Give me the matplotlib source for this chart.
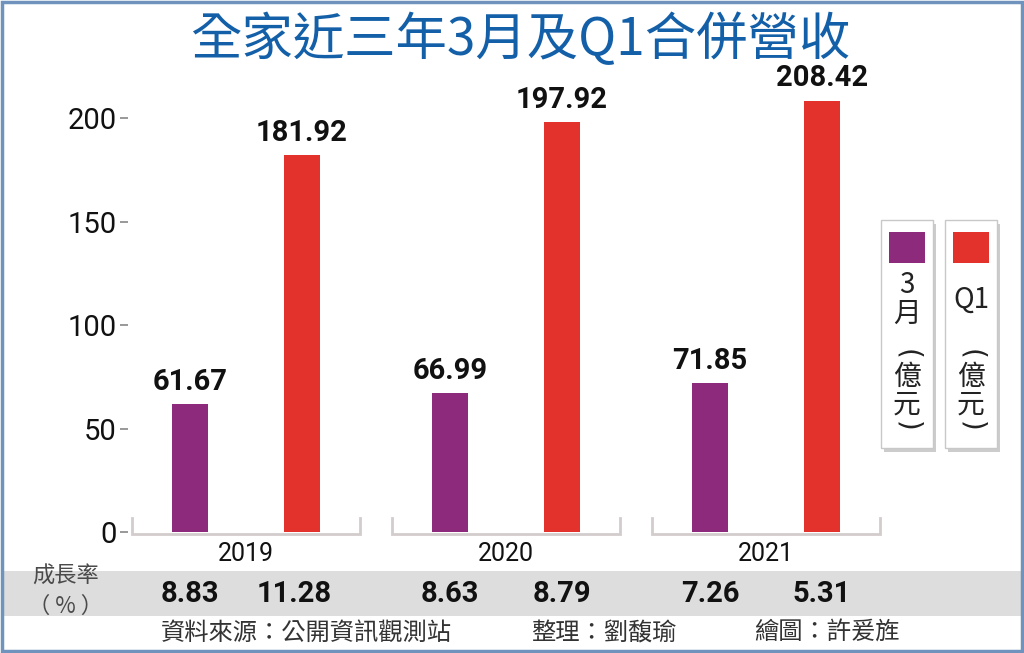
import matplotlib
matplotlib.use("Agg")
import matplotlib.pyplot as plt
import matplotlib.transforms as mtransforms
from matplotlib.patches import Rectangle
import numpy as np

plt.rcParams['font.family'] = ['Noto Sans CJK TC', 'DejaVu Sans']

# ---- data ----
title = "全家近三年3月及Q1合併營收"
years = ["2019", "2020", "2021"]
march_vals = [61.67, 66.99, 71.85]
q1_vals = [181.92, 197.92, 208.42]
march_growth = [8.83, 8.63, 7.26]
q1_growth = [11.28, 8.79, 5.31]
yticks = [0, 50, 100, 150, 200]
legend_march = ["3", "月"]
legend_q1 = ["Q1"]
legend_unit = ["億", "元"]
growth_label = ["成長率", "（ % ）"]
source_texts = ["資料來源：公開資訊觀測站", "整理：劉馥瑜", "繪圖：許爰旌"]

PURPLE = "#8e2a7c"
RED = "#e3322b"
W, H = 1024, 653

def fx(x):
    return x / W

def fy(y):
    return 1 - y / H

fig = plt.figure(figsize=(W / 100, H / 100), dpi=100)
fig.patch.set_facecolor("white")

# axes geometry (pixels)
ppu = 2.07  # pixels per unit
ymin, ymax = -4, 225
zero_px = 532
ax_bottom_px = zero_px - ymin * ppu
ax_top_px = zero_px - ymax * ppu
left_px, right_px = 128, 870
ax = fig.add_axes([fx(left_px), fy(ax_bottom_px), (right_px - left_px) / W,
                   (ax_bottom_px - ax_top_px) / H])
ax.set_zorder(2)
ax.set_ylim(ymin, ymax)
grp_px0, grp_step = 246, 260
ax.set_xlim((left_px - grp_px0) / grp_step, (right_px - grp_px0) / grp_step)
ax.patch.set_alpha(0)
for s in ax.spines.values():
    s.set_visible(False)

x = np.arange(len(years))
off = 56 / grp_step
bw = 36 / grp_step
b1 = ax.bar(x - off, march_vals, width=bw, color=PURPLE, zorder=3)
b2 = ax.bar(x + off, q1_vals, width=bw, color=RED, zorder=3)

numfont = ['Roboto', 'DejaVu Sans']
for bars, vals in ((b1, march_vals), (b2, q1_vals)):
    for r, v in zip(bars, vals):
        ax.annotate(f"{v:.2f}", (r.get_x() + r.get_width() / 2, v),
                    xytext=(0, 6), textcoords="offset points", ha="center",
                    va="bottom", fontsize=21, fontweight="bold",
                    family=numfont, color="#111111", clip_on=False)

# group brackets
half = 114 / grp_step
for xi in x:
    ax.plot([xi - half, xi - half, xi + half, xi + half], [7, -1, -1, 7],
            color="#d3cccc", lw=2, solid_joinstyle="miter", clip_on=False,
            zorder=2)

ax.set_yticks(yticks)
ax.set_yticklabels([str(t) for t in yticks], family=numfont, fontsize=21,
                   color="#111111")
ax.tick_params(axis="y", length=6, width=1.2, color="#888888", pad=2)
ax.set_xticks(x)
ax.set_xticklabels(years, family=numfont, fontsize=18, color="#111111")
ax.tick_params(axis="x", length=0, pad=1)

# growth band
fig.patches.append(Rectangle((fx(3), fy(616)), (W - 6) / W, 45 / H,
                             transform=fig.transFigure, facecolor="#dddddd",
                             edgecolor="none", zorder=0))
fig.text(fx(66), fy(576), growth_label[0], ha="center", va="center",
         fontsize=16, color="#4a4a4a")
fig.text(fx(66), fy(606), growth_label[1], ha="center", va="center",
         fontsize=16, color="#4a4a4a")
blend = mtransforms.blended_transform_factory(ax.transData, fig.transFigure)
for i in range(len(years)):
    ax.text(x[i] - off, fy(594), f"{march_growth[i]:.2f}", transform=blend,
            ha="center", va="center", fontsize=21, fontweight="bold",
            family=numfont, color="#111111")
    ax.text(x[i] + off - 8 / grp_step * (i == 0), fy(594),
            f"{q1_growth[i]:.2f}", transform=blend,
            ha="center", va="center", fontsize=21, fontweight="bold",
            family=numfont, color="#111111")

# source line
for txt, xp in zip(source_texts, [161, 531, 754]):
    fig.text(fx(xp), fy(633), txt, ha="left", va="center", fontsize=17.5,
             color="#333333")

# title
fig.text(fx(520), fy(40), title, ha="center", va="center", fontsize=37,
         fontweight="medium", color="#1460a8")

# legend boxes
for bx, col, labs, labys in ((881, PURPLE, legend_march, [285, 314]),
                             (945, RED, legend_q1, [300])):
    bw_px, y0, y1 = 52, 220, 448
    fig.patches.append(Rectangle((fx(bx + 3), fy(y1 + 4)), bw_px / W,
                                 (y1 - y0) / H, transform=fig.transFigure,
                                 facecolor="#cccccc", edgecolor="none",
                                 zorder=1))
    fig.patches.append(Rectangle((fx(bx), fy(y1)), bw_px / W, (y1 - y0) / H,
                                 transform=fig.transFigure, facecolor="white",
                                 edgecolor="#c8c8c8", lw=1, zorder=2))
    fig.patches.append(Rectangle((fx(bx + 8), fy(263)), 36 / W, 31 / H,
                                 transform=fig.transFigure, facecolor=col,
                                 edgecolor="none", zorder=3))
    cx = bx + bw_px / 2
    for lab, ly in zip(labs, labys):
        fig.text(fx(cx), fy(ly), lab, ha="center", va="center", fontsize=20,
                 color="#222222", zorder=4)
    fig.text(fx(cx), fy(354), "(", ha="center", va="center", rotation=-90,
             fontsize=20, color="#222222", zorder=4, family=['DejaVu Sans'])
    for lab, ly in zip(legend_unit, [377, 405]):
        fig.text(fx(cx), fy(ly), lab, ha="center", va="center", fontsize=20,
                 color="#222222", zorder=4)
    fig.text(fx(cx), fy(426), ")", ha="center", va="center", rotation=-90,
             fontsize=20, color="#222222", zorder=4, family=['DejaVu Sans'])

# outer border
fig.patches.append(Rectangle((fx(1.5), fy(651)), (W - 4) / W, 649 / H,
                             transform=fig.transFigure, facecolor="none",
                             edgecolor="#6f93bd", lw=2.5, zorder=10))

fig.savefig("out.png", dpi=100)
